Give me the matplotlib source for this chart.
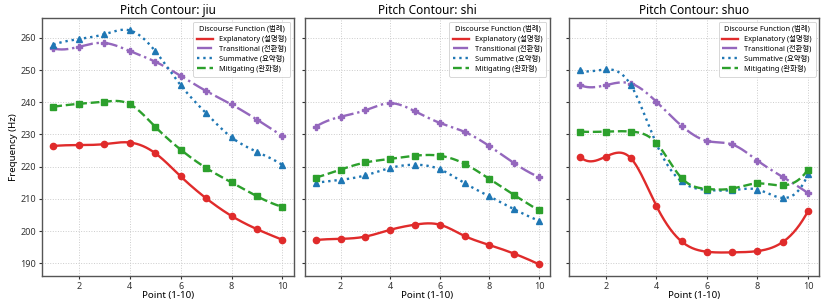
import numpy as np
import matplotlib
matplotlib.use('Agg')
import matplotlib.pyplot as plt

plt.rcParams['font.family'] = ['Noto Sans', 'Noto Sans CJK KR', 'DejaVu Sans']

points = np.arange(1, 11)
words = ['jiu', 'shi', 'shuo']
functions = ['Explanatory (설명형)', 'Transitional (전환형)', 'Summative (요약형)', 'Mitigating (완화형)']

# jiu
jiu_explanatory = [226.4, 226.7, 227.0, 227.5, 224.2, 217.0, 210.2, 204.7, 200.6, 197.3]
jiu_transitional = [256.7, 257.2, 258.4, 255.9, 252.6, 248.2, 243.5, 239.3, 234.6, 229.5]
jiu_summative = [257.9, 259.6, 261.1, 262.3, 255.9, 245.3, 236.6, 229.1, 224.6, 220.5]
jiu_mitigating = [238.6, 239.5, 240.2, 239.4, 232.4, 225.3, 219.6, 215.1, 210.8, 207.5]

# shi
shi_explanatory = [197.2, 197.6, 198.3, 200.4, 202.0, 202.0, 198.5, 195.7, 193.0, 189.7]
shi_transitional = [232.4, 235.5, 237.5, 239.7, 237.2, 233.6, 230.8, 226.4, 221.1, 216.8]
shi_summative = [215.0, 215.9, 217.3, 219.6, 220.6, 219.2, 214.9, 210.8, 206.8, 203.2]
shi_mitigating = [216.6, 219.1, 221.3, 222.4, 223.4, 223.4, 220.9, 216.2, 211.2, 206.4]

# shuo
shuo_explanatory = [223.0, 223.1, 222.6, 207.9, 196.8, 193.6, 193.4, 193.8, 196.6, 206.2]
shuo_transitional = [245.3, 245.3, 245.8, 240.2, 232.7, 228.0, 226.9, 221.9, 216.8, 211.8]
shuo_summative = [249.9, 250.2, 245.3, 227.2, 215.4, 212.8, 212.7, 212.9, 210.3, 217.6]
shuo_mitigating = [230.9, 230.9, 230.9, 227.4, 216.5, 213.1, 213.2, 214.8, 214.2, 219.1]

data = {
    'jiu': [jiu_explanatory, jiu_transitional, jiu_summative, jiu_mitigating],
    'shi': [shi_explanatory, shi_transitional, shi_summative, shi_mitigating],
    'shuo': [shuo_explanatory, shuo_transitional, shuo_summative, shuo_mitigating],
}

colors = ['#e02b2b', '#9467bd', '#1f77b4', '#2ca02c']
styles = ['-', '-.', ':', '--']
markers = ['o', 'P', '^', 's']


def smooth(x, y, n=300):
    # cubic spline, not-a-knot ends (like make_interp_spline k=3)
    x = np.asarray(x, float)
    y = np.asarray(y, float)
    m = len(x)
    h = np.diff(x)
    A = np.zeros((m, m))
    b = np.zeros(m)
    for i in range(1, m - 1):
        A[i, i - 1] = h[i - 1]
        A[i, i] = 2 * (h[i - 1] + h[i])
        A[i, i + 1] = h[i]
        b[i] = 6 * ((y[i + 1] - y[i]) / h[i] - (y[i] - y[i - 1]) / h[i - 1])
    A[0, 0], A[0, 1], A[0, 2] = h[1], -(h[0] + h[1]), h[0]
    A[-1, -3], A[-1, -2], A[-1, -1] = h[-1], -(h[-2] + h[-1]), h[-2]
    M = np.linalg.solve(A, b)
    xs = np.linspace(x[0], x[-1], n)
    idx = np.clip(np.searchsorted(x, xs) - 1, 0, m - 2)
    x0, x1 = x[idx], x[idx + 1]
    hh = x1 - x0
    ys = (M[idx] * (x1 - xs) ** 3 / (6 * hh) + M[idx + 1] * (xs - x0) ** 3 / (6 * hh)
          + (y[idx] / hh - M[idx] * hh / 6) * (x1 - xs)
          + (y[idx + 1] / hh - M[idx + 1] * hh / 6) * (xs - x0))
    return xs, ys


fig = plt.figure(figsize=(8.21, 3.05), dpi=100)
positions = [[0.051, 0.095, 0.307, 0.846],
             [0.371, 0.095, 0.299, 0.846],
             [0.693, 0.095, 0.305, 0.846]]

axes = []
for k, word in enumerate(words):
    ax = fig.add_axes(positions[k], sharey=axes[0] if axes else None)
    axes.append(ax)
    for series, label, c, ls, mk in zip(data[word], functions, colors, styles, markers):
        xs, ys = smooth(points, series)
        ax.plot(xs, ys, color=c, linestyle=ls, linewidth=1.7, label=label)
        ax.plot(points, series, color=c, linestyle='none', marker=mk, markersize=4.5)
    ax.set_title(f'Pitch Contour: {word}', fontsize=8.5, pad=3)
    ax.set_xlabel('Point (1-10)', fontsize=7, labelpad=0)
    ax.set_xticks([2, 4, 6, 8, 10])
    ax.grid(True, linestyle=':', color='#cccccc', linewidth=0.7)
    ax.tick_params(labelsize=6.5, length=2.5, width=0.8, colors='#333333', pad=1.5)
    for sp in ax.spines.values():
        sp.set_color('#555555')
        sp.set_linewidth(1.0)
    leg = ax.legend(title='Discourse Function (범례)', loc='upper right', fontsize=5.3,
                    title_fontsize=5.3, frameon=True, borderpad=0.5, handlelength=2.2,
                    labelspacing=0.3, framealpha=0.9)
    leg.get_frame().set_linewidth(0.6)
    if k > 0:
        ax.tick_params(labelleft=False)

axes[0].set_ylabel('Frequency (Hz)', fontsize=7, labelpad=2)

plt.savefig('out.png', dpi=100)
